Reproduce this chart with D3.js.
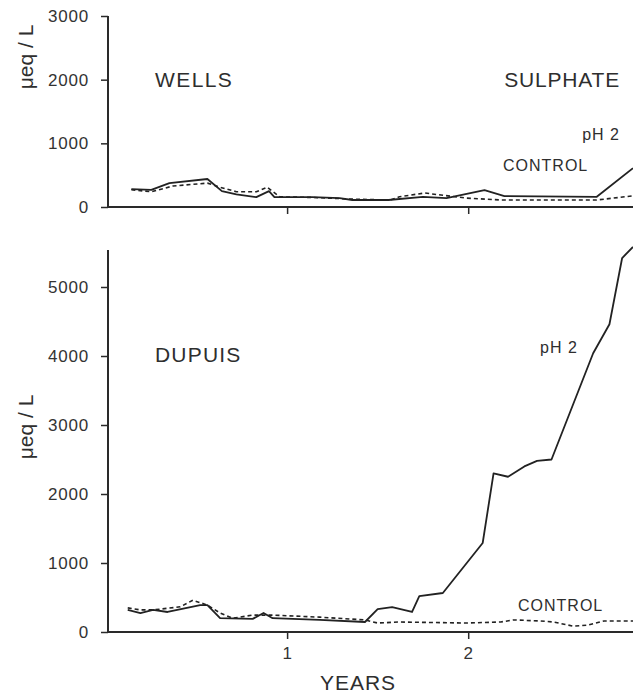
<!DOCTYPE html>
<html lang="en">
<head>
<meta charset="UTF-8">
<title>Sulphate - Wells and Dupuis</title>
<script src="https://d3js.org/d3.v7.min.js"></script>
<style>
    body { margin: 0; background: #fff; }
    svg { display: block; font-family: "Liberation Sans", Arial, sans-serif; }
    .axis path, .axis line { stroke: #2a2a2a; }
    .axis text { fill: #333; font-size: 17px; letter-spacing: 0.8px; }
    .lbl { fill: #2e2e2e; }
</style>
</head>
<body>
<div id="chart"></div>
<script>
// values (years, ueq/L)
const wellsPhYears = [0.14, 0.25, 0.35, 0.56, 0.64, 0.72, 0.83, 0.9, 0.93, 1.14, 1.29, 1.36, 1.56, 1.75, 1.88, 2.09, 2.2, 2.71, 2.91];
const wellsPh      = [280, 270, 375, 440, 250, 200, 155, 250, 155, 155, 140, 110, 110, 160, 140, 265, 170, 160, 610];
const wellsCtlYears = [0.14, 0.25, 0.37, 0.56, 0.63, 0.72, 0.83, 0.89, 0.96, 1.14, 1.35, 1.57, 1.62, 1.76, 1.9, 1.99, 2.18, 2.71, 2.91];
const wellsCtl      = [270, 240, 330, 375, 310, 240, 240, 310, 160, 150, 125, 110, 160, 220, 170, 140, 110, 110, 175];

const dupuisPhYears = [0.12, 0.19, 0.26, 0.34, 0.52, 0.56, 0.63, 0.81, 0.87, 0.92, 1.18, 1.43, 1.5, 1.58, 1.69, 1.73, 1.86, 2.08, 2.14, 2.22, 2.31, 2.38, 2.46, 2.69, 2.78, 2.85, 2.91];
const dupuisPh      = [320, 275, 320, 290, 390, 390, 200, 190, 275, 200, 175, 145, 330, 360, 290, 520, 565, 1290, 2300, 2250, 2400, 2480, 2500, 4040, 4460, 5420, 5580];
const dupuisCtlYears = [0.12, 0.19, 0.26, 0.41, 0.48, 0.56, 0.63, 0.7, 0.81, 0.92, 1.18, 1.43, 1.5, 1.62, 1.99, 2.18, 2.25, 2.4, 2.47, 2.58, 2.66, 2.75, 2.91];
const dupuisCtl      = [350, 320, 320, 365, 460, 390, 275, 200, 245, 245, 215, 175, 130, 145, 130, 145, 175, 160, 145, 85, 100, 160, 160];

const yearTicks = [1, 2];
const wellsTicks = [0, 1000, 2000, 3000];
const dupuisTicks = [0, 1000, 2000, 3000, 4000, 5000];

const width = 633, height = 694;
const svg = d3.select("#chart").append("svg")
    .attr("width", width).attr("height", height);

const x = d3.scaleLinear().domain([0, 2.91]).range([106, 633]);
const yTop = d3.scaleLinear().domain([0, 3000]).range([207, 16]);
const yBot = d3.scaleLinear().domain([0, 5000]).range([632, 287]);

function drawPanel(y, ticks, axisTop, showLabels) {
    const y0 = y(0);
    // y axis
    const ya = svg.append("g").attr("class", "axis")
        .attr("transform", "translate(108,0)")
        .call(d3.axisLeft(y).tickValues(ticks).tickSize(7).tickPadding(12).tickFormat(d3.format("d")));
    ya.select(".domain").remove();
    ya.selectAll("line").attr("stroke-width", 1.5);
    svg.append("line").attr("x1", 108).attr("x2", 108)
        .attr("y1", y0 + 1).attr("y2", axisTop)
        .attr("stroke", "#2a2a2a").attr("stroke-width", 2);
    // x axis
    const xa = svg.append("g").attr("class", "axis")
        .attr("transform", `translate(0,${y0})`)
        .call(d3.axisBottom(x).tickValues(yearTicks).tickSize(7).tickPadding(8)
            .tickFormat(showLabels ? d3.format("d") : ""));
    xa.select(".domain").remove();
    xa.selectAll("line").attr("stroke-width", 1.5);
    svg.append("line").attr("x1", 107).attr("x2", width)
        .attr("y1", y0).attr("y2", y0)
        .attr("stroke", "#2a2a2a").attr("stroke-width", 2.2);
}

drawPanel(yTop, wellsTicks, 16, false);
drawPanel(yBot, dupuisTicks, 250, true);

function series(xs, vs, y, dashed) {
    const line = d3.line().x(d => x(d[0])).y(d => y(d[1]));
    svg.append("path")
        .datum(xs.map((t, i) => [t, vs[i]]))
        .attr("d", line)
        .attr("fill", "none")
        .attr("stroke", "#222")
        .attr("stroke-width", dashed ? 1.6 : 1.8)
        .attr("stroke-dasharray", dashed ? "4,3" : null)
        .attr("stroke-linejoin", "round");
}

series(wellsCtlYears, wellsCtl, yTop, true);
series(wellsPhYears, wellsPh, yTop, false);
series(dupuisCtlYears, dupuisCtl, yBot, true);
series(dupuisPhYears, dupuisPh, yBot, false);

// labels
function text(t, px, py, size, anchor, spacing) {
    svg.append("text").attr("class", "lbl")
        .attr("x", px).attr("y", py)
        .attr("font-size", size)
        .attr("letter-spacing", spacing || 1)
        .attr("text-anchor", anchor || "start")
        .text(t);
}
text("WELLS", 155, 87, 21, "start", 1.4);
text("SULPHATE", 620, 87, 21, "end", 0.8);
text("pH 2", 620, 140, 16, "end");
text("CONTROL", 503, 171, 16);
text("DUPUIS", 155, 362, 21, "start", 1.2);
text("pH 2", 540, 353, 16);
text("CONTROL", 518, 611, 16);
text("YEARS", 358, 690, 21, "middle", 1);

[57, 427].forEach(cy => {
    svg.append("text").attr("class", "lbl")
        .attr("transform", `translate(33,${cy}) rotate(-90)`)
        .attr("text-anchor", "middle")
        .attr("font-size", 21)
        .text("\u03bceq / L");
});
</script>
</body>
</html>
